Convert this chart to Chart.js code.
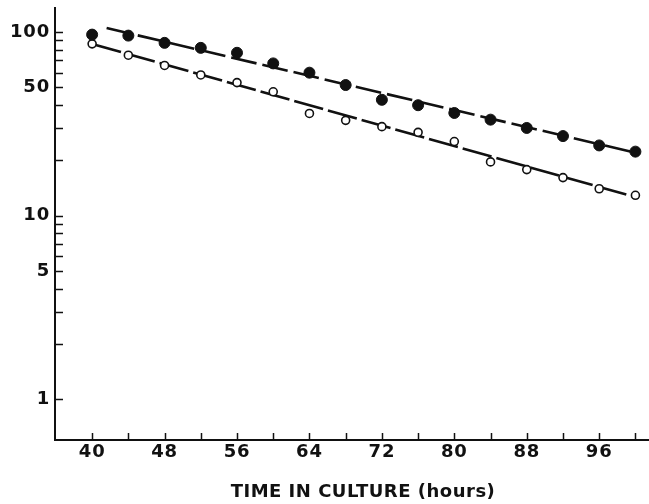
<!DOCTYPE html>
<html>
<head>
<meta charset="utf-8">
<script src="https://cdn.jsdelivr.net/npm/chart.js@4.4.1/dist/chart.umd.min.js"></script>
<style>
  html, body { margin: 0; padding: 0; background: #fff; }
</style>
</head>
<body>
<canvas id="myChart" width="649" height="504"></canvas>
<script>
// data (log y)
const hours = [40, 44, 48, 52, 56, 60, 64, 68, 72, 76, 80, 84, 88, 92, 96, 100];
const filledValues = [96.7, 95.5, 87.2, 81.9, 77.0, 67.4, 60.0, 51.4, 42.7, 39.9, 36.2, 33.3, 30.0, 27.1, 24.1, 22.3];
const openValues = [86.1, 74.7, 65.7, 58.3, 53.0, 47.2, 36.0, 33.0, 30.5, 28.4, 25.3, 19.6, 17.8, 16.1, 14.0, 12.9];

// fitted lines (end points)
const filledFitHours = [41.6, 100];
const filledFitValues = [105, 22];
const openFitHours = [40, 100];
const openFitValues = [86, 12.6];

// ticks
const xTicks = [40, 44, 48, 52, 56, 60, 64, 68, 72, 76, 80, 84, 88, 92, 96, 100];
const xLabels = [40, 48, 56, 64, 72, 80, 88, 96];
const yTicks = [1, 2, 3, 4, 5, 6, 7, 8, 9, 10, 20, 30, 40, 50, 60, 70, 80, 90, 100];
const yLabels = [1, 5, 10, 50, 100];
const xTitle = 'TIME IN CULTURE (hours)';

const ink = '#111';

const toPoints = (xs, ys) => xs.map((x, i) => ({ x: x, y: ys[i] }));

// ticks point into the plot, so draw them ourselves from the scales
const inwardTicks = {
    id: 'inwardTicks',
    beforeDraw(chart) {
        chart.ctx.letterSpacing = '0.8px';
    },
    afterDraw(chart) {
        const ctx = chart.ctx;
        const xs = chart.scales.x;
        const ys = chart.scales.y;
        ctx.save();
        ctx.strokeStyle = ink;
        ctx.lineWidth = 1.5;
        ctx.beginPath();
        xs.ticks.forEach(t => {
            const px = Math.round(xs.getPixelForValue(t.value)) + 0.5;
            ctx.moveTo(px, xs.top);
            ctx.lineTo(px, xs.top - 7);
        });
        ys.ticks.forEach(t => {
            const py = Math.round(ys.getPixelForValue(t.value)) + 0.5;
            ctx.moveTo(ys.right, py);
            ctx.lineTo(ys.right + 8, py);
        });
        ctx.stroke();

        // axis title
        ctx.fillStyle = ink;
        ctx.font = 'bold 18px "DejaVu Sans"';
        ctx.letterSpacing = '0.5px';
        ctx.textAlign = 'center';
        ctx.textBaseline = 'middle';
        ctx.fillText(xTitle, 363, 492);
        ctx.restore();
    }
};

const ctx = document.getElementById('myChart');

new Chart(ctx, {
    type: 'scatter',
    data: {
        datasets: [
            {
                label: 'filled',
                data: toPoints(hours, filledValues),
                pointStyle: 'circle',
                pointRadius: 5.5,
                pointBackgroundColor: ink,
                pointBorderColor: ink,
                pointBorderWidth: 1,
                showLine: false
            },
            {
                label: 'open',
                data: toPoints(hours, openValues),
                pointStyle: 'circle',
                pointRadius: 4,
                pointBackgroundColor: '#fff',
                pointBorderColor: ink,
                pointBorderWidth: 1.6,
                showLine: false
            },
            {
                label: 'filled fit',
                data: toPoints(filledFitHours, filledFitValues),
                showLine: true,
                pointRadius: 0,
                borderColor: ink,
                borderWidth: 2.6,
                borderDash: [26, 6]
            },
            {
                label: 'open fit',
                data: toPoints(openFitHours, openFitValues),
                showLine: true,
                pointRadius: 0,
                borderColor: ink,
                borderWidth: 2.6,
                borderDash: [30, 5]
            }
        ]
    },
    options: {
        responsive: false,
        animation: false,
        layout: { autoPadding: false, padding: { top: 8, right: 0, left: 0, bottom: 0 } },
        plugins: {
            legend: { display: false },
            tooltip: { enabled: false },
            title: { display: false }
        },
        scales: {
            x: {
                type: 'linear',
                min: 35.9,
                max: 101.5,
                afterBuildTicks: s => { s.ticks = xTicks.map(v => ({ value: v })); },
                afterFit: s => {
                    s.height = 64;
                    s.paddingLeft = 0;
                    s.paddingRight = 0;
                },
                ticks: {
                    color: ink,
                    font: { family: 'DejaVu Sans', size: 18, weight: 'bold' },
                    padding: 2,
                    maxRotation: 0,
                    autoSkip: false,
                    callback: v => xLabels.includes(v) ? String(v) : ''
                },
                grid: { drawOnChartArea: false, drawTicks: false },
                border: { color: ink, width: 2 }
            },
            y: {
                type: 'logarithmic',
                min: 0.625,
                max: 135,
                afterBuildTicks: s => { s.ticks = yTicks.map(v => ({ value: v })); },
                afterFit: s => {
                    s.width = 55;
                    s.paddingTop = 0;
                    s.paddingBottom = 0;
                },
                ticks: {
                    color: ink,
                    font: { family: 'DejaVu Sans', size: 18, weight: 'bold' },
                    padding: 5,
                    autoSkip: false,
                    callback: v => yLabels.includes(v) ? String(v) : ''
                },
                grid: { drawOnChartArea: false, drawTicks: false },
                border: { color: ink, width: 2 }
            }
        }
    },
    plugins: [inwardTicks]
});
</script>
</body>
</html>
